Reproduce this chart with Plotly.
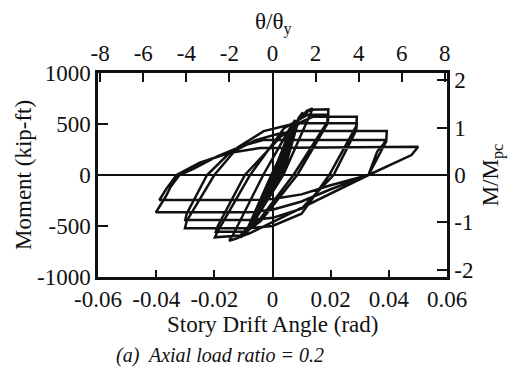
import plotly.graph_objects as go

# ---- data (story drift angle [rad], moment [kip-ft]) ----
drift_elastic = [0, 0.0040, 0.0012, -0.0040, 0.0016, 0.0052, 0.0009, -0.0056, 0.0020,
                 0.0078, 0.0062, 0.0004, -0.0062, -0.0078, -0.0062, 0.0024, 0.0080,
                 0.0101, 0.0086, 0.0002, -0.0072, -0.0101, -0.0086, 0.0030, 0.0086,
                 0.0103, 0.0088, 0.0000, -0.0075, -0.0103, -0.0088, 0.0032,
                 0.0092, 0.0105, 0.0090, 0.0010, -0.0068, -0.0108, -0.0092, 0.0026,
                 0.0080, 0.0104, 0.0080, -0.0004, -0.0082, -0.0110, -0.0090, 0.0036]
moment_elastic = [0, 290, 0, -270, 0, 380, 0, -380, 0,
                  540, 470, 0, -430, -520, -460, 0, 510,
                  600, 530, 0, -480, -590, -530, 0, 520,
                  610, 540, 0, -490, -600, -540, 0,
                  560, 615, 560, 0, -450, -610, -560, 0,
                  500, 600, 500, 0, -500, -615, -550, 0]

drift_015 = [0.0090, 0.0118, 0.0138, 0.0132, 0.0037, -0.0060, -0.0120, -0.0149,
             -0.0138, -0.0032, 0.0060, 0.0120]
moment_015 = [540, 630, 654, 610, 0, -440, -620, -644,
              -600, 0, 460, 620]

drift_020 = [0.0130, 0.0192, 0.0191, 0.0072, -0.0040, -0.0100, -0.0198,
             -0.0190, -0.0077, 0.0040, 0.0120, 0.0190, 0.0188, 0.0085, -0.0040,
             -0.0090, -0.0195, -0.0188, -0.0095, 0.0030, 0.0100]
moment_020 = [640, 644, 530, 0, -420, -590, -611,
              -560, 0, 460, 590, 590, 500, 0, -450,
              -556, -556, -500, 0, 380, 520]

drift_030 = [0.0140, 0.0290, 0.0288, 0.0195, 0.0100, 0.0000, -0.0080, -0.0301,
             -0.0295, -0.0200, -0.0120, -0.0030, 0.0080, 0.0290, 0.0288, 0.0210,
             0.0100, 0.0000, -0.0070, -0.0300, -0.0295, -0.0225, -0.0150, -0.0060, 0.0020, 0.0083]
moment_030 = [572, 572, 480, 0, -380, -500, -523, -523,
              -450, 0, 270, 430, 507, 507, 440, 0,
              -330, -420, -441, -441, -380, 0, 210, 340, 405, 431]

drift_040 = [0.0393, 0.0391, 0.0330, 0.0200, 0.0100, 0.0000, -0.0080, -0.0401,
             -0.0367, -0.0350, -0.0320, -0.0272, -0.0192, -0.0100, -0.0030, 0.0040, 0.0387,
             0.0384, 0.0360, 0.0330, 0.0200, 0.0100, 0.0000, -0.0080, -0.0389,
             -0.0364, -0.0330, -0.0250, -0.0150, -0.0043]
moment_040 = [431, 330, 0, -140, -260, -340, -366, -366,
              -211, -115, 0, 60, 180, 290, 345, 343, 343,
              310, 230, 0, -100, -190, -235, -245, -245,
              -131, 0, 120, 215, 265]

drift_050 = [0.0501, 0.0478, 0.0330, 0.0150, 0.0000, -0.0077, -0.0120]
moment_050 = [277, 196, 0, -250, -458, -569, -615]

drift = drift_elastic + drift_015 + drift_020 + drift_030 + drift_040 + drift_050
moment = moment_elastic + moment_015 + moment_020 + moment_030 + moment_040 + moment_050

x_ticks = [-0.06, -0.04, -0.02, 0, 0.02, 0.04, 0.06]
x_ticktext = ["-0.06", "-0.04", "-0.02", "0", "0.02", "0.04", "0.06"]
y_ticks = [-1000, -500, 0, 500, 1000]
y_ticktext = ["-1000", "-500", "0", "500", "1000"]
top_ticks = [-8, -6, -4, -2, 0, 2, 4, 6, 8]
top_ticktext = ["-8", "-6", "-4", "-2", "0", "2", "4", "6", "8"]
right_ticks = [-2, -1, 0, 1, 2]
right_ticktext = ["-2", "-1", "0", "1", "2"]

FONT = "'Liberation Serif', 'Times New Roman', 'DejaVu Serif', serif"
fs = 23

fig = go.Figure()
fig.add_trace(go.Scatter(x=drift, y=moment, mode="lines",
                         line=dict(color="#111111", width=2.5),
                         showlegend=False, hoverinfo="skip"))
# invisible trace to activate secondary axes
fig.add_trace(go.Scatter(x=[0], y=[0], xaxis="x2", yaxis="y2", mode="markers",
                         marker=dict(opacity=0), showlegend=False, hoverinfo="skip"))

axis_common = dict(ticks="inside", tickwidth=2, tickcolor="#111111",
                   showline=True, linecolor="#111111", linewidth=2.5,
                   showgrid=False, tickfont=dict(family=FONT, size=fs, color="#111111"),
                   tickmode="array")

fig.update_layout(
    width=508, height=373,
    margin=dict(l=98, r=61, t=73, b=96),
    paper_bgcolor="white", plot_bgcolor="white",
    xaxis=dict(range=[-0.06, 0.06], tickvals=x_ticks, ticktext=x_ticktext, ticklen=7,
               zeroline=True, zerolinecolor="#111111", zerolinewidth=2, **axis_common),
    yaxis=dict(range=[-1000, 1000], tickvals=y_ticks, ticktext=y_ticktext, ticklen=10,
               zeroline=True, zerolinecolor="#111111", zerolinewidth=2, **axis_common),
    xaxis2=dict(range=[-8.1, 8.1], tickvals=top_ticks, ticktext=top_ticktext, ticklen=9,
                overlaying="x", side="top", zeroline=False, **axis_common),
    yaxis2=dict(range=[-2.156, 2.156], tickvals=right_ticks, ticktext=right_ticktext, ticklen=10,
                overlaying="y", side="right", zeroline=False, **axis_common),
    font=dict(family=FONT, size=fs, color="#111111"),
)

ann = dict(showarrow=False, xref="paper", yref="paper", font=dict(family=FONT, size=fs, color="#111111"))
fig.add_annotation(text="Moment (kip-ft)", x=-0.215, y=0.5, textangle=-90, xanchor="center", yanchor="middle", **ann)
fig.add_annotation(text="M/M<sub>pc</sub>", x=1.13, y=0.5, textangle=-90, xanchor="center", yanchor="middle", **ann)
fig.add_annotation(text="Story Drift Angle (rad)", x=0.5, y=-0.235, xanchor="center", yanchor="middle", **ann)
fig.add_annotation(text="θ/θ<sub>y</sub>", x=0.5, y=1.245, xanchor="center", yanchor="middle", **ann)
fig.add_annotation(text="<i>(a)&nbsp; Axial load ratio = 0.2</i>", x=0.35, y=-0.385, xanchor="center",
                   yanchor="middle", showarrow=False, xref="paper", yref="paper",
                   font=dict(family=FONT, size=20, color="#111111"))

fig.write_html("out.html")
